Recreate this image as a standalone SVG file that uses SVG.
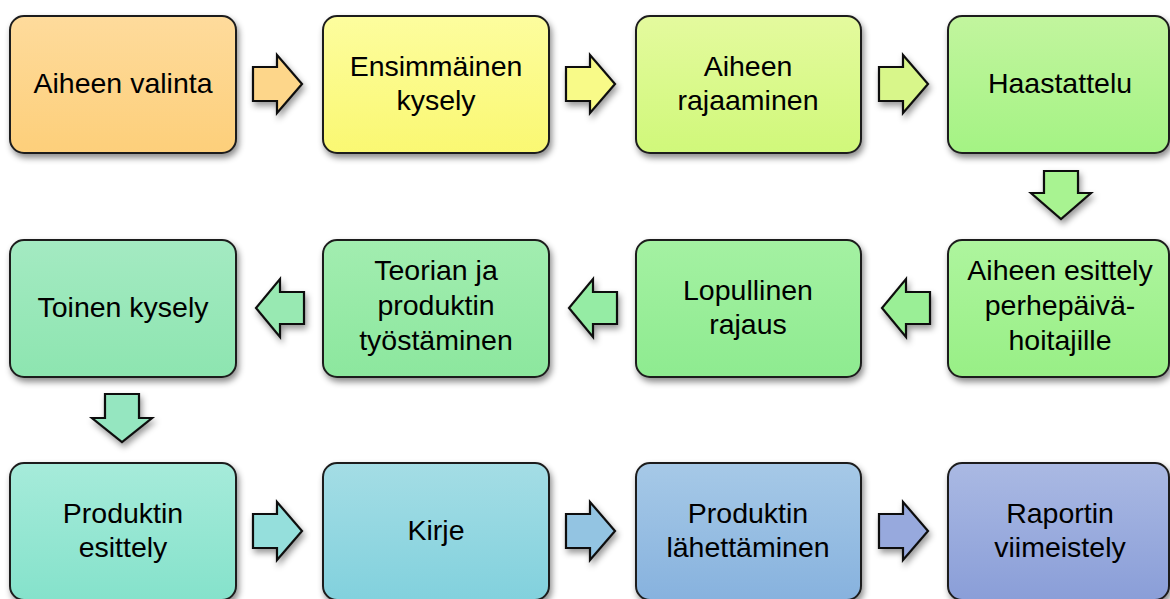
<svg xmlns="http://www.w3.org/2000/svg" width="1170" height="599" viewBox="0 0 1170 599">
<style>
.box{stroke:#1e1e1e;stroke-width:2;filter:url(#sh)}
.arr{stroke:#111;stroke-width:2.2;stroke-linejoin:miter;filter:url(#sh2)}
text{font-family:"Liberation Sans",Arial,sans-serif;font-size:28.5px;fill:#000;text-anchor:middle}
</style>
<defs>
<filter id="sh" x="-10%" y="-10%" width="125%" height="130%"><feDropShadow dx="2" dy="4" stdDeviation="3" flood-color="#000" flood-opacity="0.45"/></filter>
<filter id="sh2" x="-20%" y="-20%" width="150%" height="160%"><feDropShadow dx="2" dy="4" stdDeviation="3" flood-color="#000" flood-opacity="0.4"/></filter>
<linearGradient id="g1" x1="0" y1="0" x2="0" y2="1"><stop offset="0" stop-color="#fedb9c"/><stop offset="1" stop-color="#fdcf7a"/></linearGradient>
<linearGradient id="g2" x1="0" y1="0" x2="0" y2="1"><stop offset="0" stop-color="#fdfd9e"/><stop offset="1" stop-color="#faf872"/></linearGradient>
<linearGradient id="g3" x1="0" y1="0" x2="0" y2="1"><stop offset="0" stop-color="#e4fa9e"/><stop offset="1" stop-color="#d0f87a"/></linearGradient>
<linearGradient id="g4" x1="0" y1="0" x2="0" y2="1"><stop offset="0" stop-color="#c2f59e"/><stop offset="1" stop-color="#a4f384"/></linearGradient>
<linearGradient id="g5" x1="0" y1="0" x2="0" y2="1"><stop offset="0" stop-color="#aef59e"/><stop offset="1" stop-color="#98ef86"/></linearGradient>
<linearGradient id="g6" x1="0" y1="0" x2="0" y2="1"><stop offset="0" stop-color="#a4f1a2"/><stop offset="1" stop-color="#8eeb90"/></linearGradient>
<linearGradient id="g7" x1="0" y1="0" x2="0" y2="1"><stop offset="0" stop-color="#a2edb0"/><stop offset="1" stop-color="#8ce79e"/></linearGradient>
<linearGradient id="g8" x1="0" y1="0" x2="0" y2="1"><stop offset="0" stop-color="#a4eac2"/><stop offset="1" stop-color="#8de5b0"/></linearGradient>
<linearGradient id="g9" x1="0" y1="0" x2="0" y2="1"><stop offset="0" stop-color="#a6ebda"/><stop offset="1" stop-color="#85e2cb"/></linearGradient>
<linearGradient id="g10" x1="0" y1="0" x2="0" y2="1"><stop offset="0" stop-color="#a4dde5"/><stop offset="1" stop-color="#82d1dd"/></linearGradient>
<linearGradient id="g11" x1="0" y1="0" x2="0" y2="1"><stop offset="0" stop-color="#a6c9e7"/><stop offset="1" stop-color="#87b2de"/></linearGradient>
<linearGradient id="g12" x1="0" y1="0" x2="0" y2="1"><stop offset="0" stop-color="#aab9e3"/><stop offset="1" stop-color="#8a9ed8"/></linearGradient>
</defs>
<rect width="1170" height="599" fill="#fff"/>

<g id="connectors">
<path class="arr" fill="#fdd68a" d="M253 67H277V55L302 84L277 113V101H253Z"/>
<path class="arr" fill="#f8fa88" d="M566 67H590V55L615 84L590 113V101H566Z"/>
<path class="arr" fill="#d8f68a" d="M879 67H903V55L928 84L903 113V101H879Z"/>
<path class="arr" fill="#a8f391" d="M1044 171H1078V193H1091L1061 219L1031 193H1044Z"/>
<path class="arr" fill="#9aef96" d="M930 292H906V279L882 308L906 337V324H930Z"/>
<path class="arr" fill="#95eca4" d="M617 292H593V279L569 308L593 337V324H617Z"/>
<path class="arr" fill="#98e9b2" d="M304 292H280V279L256 308L280 337V324H304Z"/>
<path class="arr" fill="#95e6c0" d="M105 394H139V418H152L122 442L92 418H105Z"/>
<path class="arr" fill="#95dfdc" d="M253 514H277V502L302 531L277 560V548H253Z"/>
<path class="arr" fill="#93c4e2" d="M566 514H590V502L615 531L590 560V548H566Z"/>
<path class="arr" fill="#97a9dd" d="M879 514H903V502L928 531L903 560V548H879Z"/>
</g>

<g id="n1"><rect class="box" x="10" y="16" width="226" height="137" rx="14" fill="url(#g1)"/><text x="123" y="93">Aiheen valinta</text></g>
<g id="n2"><rect class="box" x="323" y="16" width="226" height="137" rx="14" fill="url(#g2)"/><text x="436" y="76">Ensimmäinen</text><text x="436" y="110">kysely</text></g>
<g id="n3"><rect class="box" x="636" y="16" width="225" height="137" rx="14" fill="url(#g3)"/><text x="748" y="76">Aiheen</text><text x="748" y="110">rajaaminen</text></g>
<g id="n4"><rect class="box" x="948" y="16" width="221" height="137" rx="14" fill="url(#g4)"/><text x="1060" y="93">Haastattelu</text></g>

<g id="n5"><rect class="box" x="948" y="240" width="221" height="137" rx="14" fill="url(#g5)"/><text x="1060" y="280">Aiheen esittely</text><text x="1060" y="315">perhepäivä-</text><text x="1060" y="350">hoitajille</text></g>
<g id="n6"><rect class="box" x="636" y="240" width="225" height="137" rx="14" fill="url(#g6)"/><text x="748" y="300">Lopullinen</text><text x="748" y="334">rajaus</text></g>
<g id="n7"><rect class="box" x="323" y="240" width="226" height="137" rx="14" fill="url(#g7)"/><text x="436" y="280">Teorian ja</text><text x="436" y="315">produktin</text><text x="436" y="350">työstäminen</text></g>
<g id="n8"><rect class="box" x="10" y="240" width="226" height="137" rx="14" fill="url(#g8)"/><text x="123" y="317">Toinen kysely</text></g>

<g id="n9"><rect class="box" x="10" y="463" width="226" height="137" rx="14" fill="url(#g9)"/><text x="123" y="523">Produktin</text><text x="123" y="557">esittely</text></g>
<g id="n10"><rect class="box" x="323" y="463" width="226" height="137" rx="14" fill="url(#g10)"/><text x="436" y="540">Kirje</text></g>
<g id="n11"><rect class="box" x="636" y="463" width="225" height="137" rx="14" fill="url(#g11)"/><text x="748" y="523">Produktin</text><text x="748" y="557">lähettäminen</text></g>
<g id="n12"><rect class="box" x="948" y="463" width="221" height="137" rx="14" fill="url(#g12)"/><text x="1060" y="523">Raportin</text><text x="1060" y="557">viimeistely</text></g>
</svg>
